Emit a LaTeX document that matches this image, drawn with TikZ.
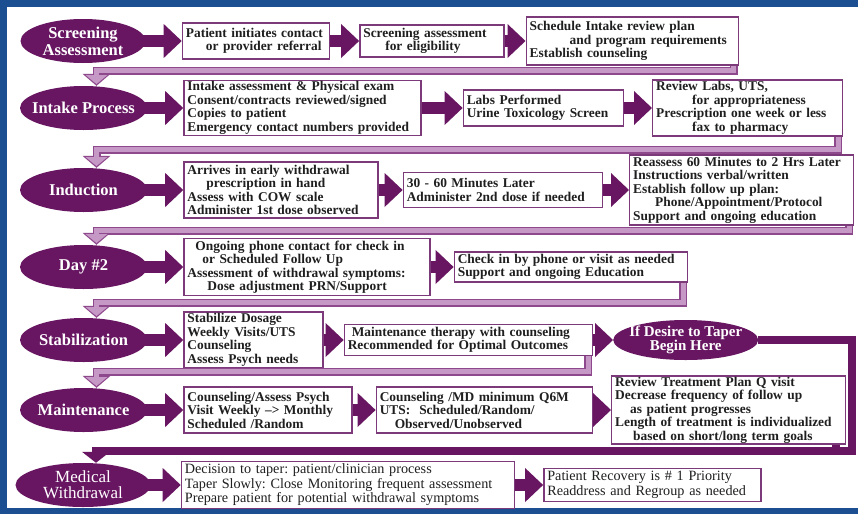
\documentclass[tikz,border=0pt]{standalone}
\usepackage{fontspec}
\setmainfont{Liberation Serif}
\usepackage{xcolor}
\usepackage{tikz}
\usetikzlibrary{shapes.geometric, arrows.meta, positioning, calc}
\frenchspacing

\definecolor{plum}{RGB}{104,22,98}
\definecolor{boxedge}{RGB}{125,58,122}
\definecolor{lilac}{RGB}{198,152,198}
\definecolor{lilacrim}{RGB}{142,72,140}
\definecolor{frameblue}{RGB}{28,78,146}

% light return arrow: last box of a row -> stage of next row
\newcommand{\rowlink}[3]{%
  \draw[linkrim]  ([xshift=-5pt]#1.south east) |- ([xshift=13pt,yshift=#3]#2.north) -- ([xshift=13pt]#2.north);
  \draw[linkfill] ([xshift=-5pt]#1.south east) |- ([xshift=13pt,yshift=#3]#2.north) -- ([xshift=13pt]#2.north);}

\begin{document}
\begin{tikzpicture}[
  x=1pt, y=-1pt,
  stage/.style={ellipse, fill=plum, text=white, inner xsep=-15pt, inner ysep=-4pt, minimum width=127pt,
              minimum height=44pt, align=center, font=\fontsize{16.5}{17}\selectfont\bfseries},
  box/.style={rectangle, draw=boxedge, line width=1.4pt, fill=white, align=left,
              inner xsep=3.5pt, inner ysep=1pt, text=black!88, font=\fontsize{13.4}{13.5}\selectfont\bfseries},
  plainbox/.style={box, font=\fontsize{14.2}{14.5}\selectfont},
  flow/.style={draw=plum, line width=12pt, -{Triangle[width=34pt,length=18pt,line width=0pt]}},
  linkrim/.style={draw=lilacrim, line width=8pt, -{Triangle[width=28pt,length=12pt,line width=0pt]}},
  linkfill/.style={draw=lilac, line width=5pt, shorten >=1.8pt, -{Triangle[width=22pt,length=9pt,line width=0pt]}},
  taperlink/.style={draw=plum, line width=8pt}
]
\useasboundingbox (0,0) rectangle (858,514);
\fill[frameblue] (0,0) rectangle (858,514);
\fill[white] (7,7) rectangle (858,508);

% Screening
\node[stage, minimum width=125pt] (screen) at (83,41) {Screening\\Assessment};
\node[box, right=36pt of screen, text width=140pt, minimum height=36pt] (contact) {Patient initiates contact\\\hspace*{20pt}or provider referral};
\node[box, right=29pt of contact, text width=137pt, minimum height=32pt] (eligible) {Screening assessment\\\hspace*{22pt}for eligibility};
\node[box, right=21pt of eligible, text width=205pt, minimum height=48pt] (schedule) {Schedule Intake review plan\\\hspace*{40pt}and program requirements\\Establish counseling};

% Intake
\node[stage] (intake) at (83.5,108) {Intake Process};
\node[box, right=36pt of intake, text width=230pt, minimum height=55pt] (consent) {Intake assessment \& Physical exam\\Consent/contracts reviewed/signed\\Copies to patient\\Emergency contact numbers provided};
\node[box, right=41pt of consent, text width=153pt, minimum height=36pt] (labs) {Labs Performed\\Urine Toxicology Screen};
\node[box, right=28pt of labs, text width=183pt, minimum height=56pt] (review) {Review Labs, UTS,\\\hspace*{36pt}for appropriateness\\Prescription one week or less\\\hspace*{36pt}fax to pharmacy};

% Induction
\node[stage] (induct) at (83.5,190) {Induction};
\node[box, right=36pt of induct, text width=187pt, minimum height=56pt] (arrive) {Arrives in early withdrawal\\\hspace*{19pt}prescription in hand\\Assess with COW scale\\Administer 1st dose observed};
\node[box, right=24pt of arrive, text width=192pt, minimum height=35pt] (second) {30 - 60 Minutes Later\\Administer 2nd dose if needed};
\node[box, right=26pt of second, text width=217pt, minimum height=70pt] (reassess) {Reassess 60 Minutes to 2 Hrs Later\\Instructions verbal/written\\Establish follow up plan:\\\hspace*{22pt}Phone/Appointment/Protocol\\Support and ongoing education};

% Day 2
\node[stage] (daytwo) at (83.5,267) {Day \#2};
\node[box, right=36pt of daytwo, text width=239pt, minimum height=57pt] (ongoing) {\hspace*{8pt}Ongoing phone contact for check in\\\hspace*{15pt}or Scheduled Follow Up\\Assessment of withdrawal symptoms:\\\hspace*{20pt}Dose adjustment PRN/Support};
\node[box, right=23pt of ongoing, text width=226pt, minimum height=30pt] (checkin) {Check in by phone or visit as needed\\Support and ongoing Education};

% Stabilization
\node[stage] (stabil) at (83.5,340) {Stabilization};
\node[box, right=36pt of stabil, text width=132pt, minimum height=56pt] (dosage) {Stabilize Dosage\\Weekly Visits/UTS\\Counseling\\Assess Psych needs};
\node[box, right=20pt of dosage, text width=241pt, minimum height=31pt] (therapy) {\hspace*{4pt}Maintenance therapy with counseling\\Recommended for Optimal Outcomes};
\node[stage, right=20pt of therapy, minimum width=145pt, minimum height=40pt,
      font=\fontsize{15}{14}\selectfont\bfseries] (taper) {If Desire to Taper\\Begin Here};

% Maintenance
\node[stage] (maint) at (83.5,410) {Maintenance};
\node[box, right=36pt of maint, text width=161pt, minimum height=46pt] (psych) {Counseling/Assess Psych\\Visit Weekly --> Monthly\\Scheduled /Random};
\node[box, right=23pt of psych, text width=209pt, minimum height=46pt] (counsel) {Counseling /MD minimum Q6M\\UTS:\ \ Scheduled/Random/\\\hspace*{15pt}Observed/Unobserved};
\node[box, right=18pt of counsel, text width=227pt, minimum height=68pt] (plan) {Review Treatment Plan Q visit\\Decrease frequency of follow up\\\hspace*{15pt}as patient progresses\\Length of treatment is individualized\\\hspace*{18pt}based on short/long term goals};

% Medical withdrawal
\node[stage, minimum width=135pt, font=\fontsize{17}{16}\selectfont] (medwd) at (83,485) {Medical\\Withdrawal};
\node[plainbox, right=30pt of medwd, text width=326pt, minimum height=47pt] (decide) {Decision to taper: patient/clinician process\\Taper Slowly: Close Monitoring frequent assessment\\Prepare patient for potential withdrawal symptoms};
\node[plainbox, right=28pt of decide, text width=210pt, minimum height=33pt] (recover) {Patient Recovery is \# 1 Priority\\Readdress and Regroup as needed};

\coordinate (turn) at (852,451);

% Edges
\draw[flow] ([xshift=-4pt]screen.east) -- (contact.west);
\draw[flow] (contact) -- (eligible);
\draw[flow] (eligible) -- (schedule);
\draw[flow] ([xshift=-4pt]intake.east) -- (consent.west);
\draw[flow] (consent) -- (labs);
\draw[flow] (labs) -- (review);
\draw[flow] ([xshift=-4pt]induct.east) -- (arrive.west);
\draw[flow] (arrive) -- (second);
\draw[flow] (second) -- (reassess);
\draw[flow] ([xshift=-4pt]daytwo.east) -- (ongoing.west);
\draw[flow] (ongoing) -- (checkin);
\draw[flow] ([xshift=-4pt]stabil.east) -- (dosage.west);
\draw[flow] (dosage) -- (therapy);
\draw[flow] (therapy.east) -- (taper.west);
\draw[flow] ([xshift=-4pt]maint.east) -- (psych.west);
\draw[flow] (psych) -- (counsel);
\draw[flow] (counsel) -- (plan);
\draw[flow] ([xshift=-4pt]medwd.east) -- (decide.west);
\draw[flow] (decide) -- (recover);

\rowlink{schedule}{intake}{15pt}
\rowlink{review}{induct}{18pt}
\rowlink{reassess}{daytwo}{14pt}
\rowlink{checkin}{stabil}{15pt}
\rowlink{therapy}{maint}{16pt}

\draw[taperlink] ([xshift=-10pt]plan.south east) |- (turn);
\draw[taperlink, -{Triangle[width=28pt,length=11pt,line width=0pt]}] (taper.east) -| (turn) -| ([xshift=13pt]medwd.north);
\end{tikzpicture}
\end{document}
